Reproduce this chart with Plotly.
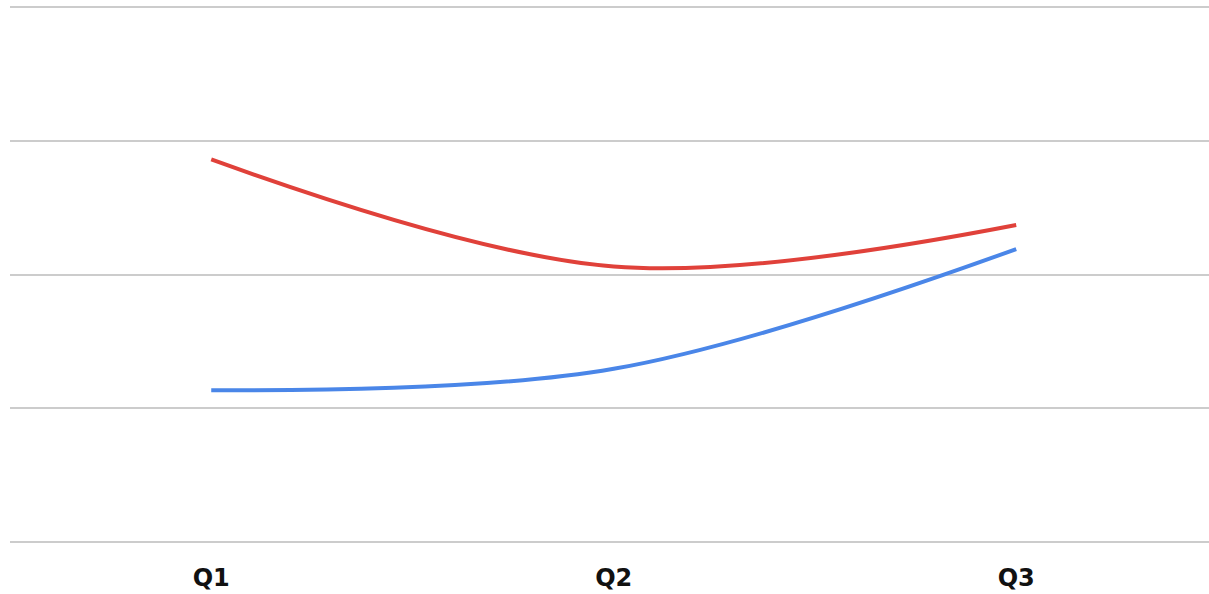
import plotly.graph_objects as go

quarters = ["Q1", "Q2", "Q3"]
series_red = [28.6, 20.6, 23.7]
series_blue = [11.35, 12.95, 21.9]

fig = go.Figure()
fig.add_trace(go.Scatter(
    x=quarters, y=series_red, mode="lines",
    line=dict(color="#e0413a", width=4, shape="spline", smoothing=1),
    hoverinfo="skip", showlegend=False,
))
fig.add_trace(go.Scatter(
    x=quarters, y=series_blue, mode="lines",
    line=dict(color="#4a86e8", width=4, shape="spline", smoothing=1),
    hoverinfo="skip", showlegend=False,
))

fig.update_layout(
    width=1209, height=594,
    margin=dict(l=10, r=0, t=5, b=50),
    paper_bgcolor="white", plot_bgcolor="white",
    font=dict(family="DejaVu Sans", color="#111111"),
)
fig.update_xaxes(
    type="category", range=[-0.5, 2.479],
    showgrid=False, zeroline=False, showline=False, ticks="",
    tickfont=dict(family="DejaVu Sans", size=24, color="#111111", weight="bold"),
    ticklabelstandoff=17,
)
# padded slightly so the 0 and 40 gridlines are drawn inside the plot area
fig.update_yaxes(
    range=[-0.15, 40.15], tickmode="array", tickvals=[0, 10, 20, 30, 40],
    showticklabels=False,
    showgrid=True, gridcolor="#cccccc", gridwidth=2,
    zeroline=False, showline=False, ticks="",
)

fig.write_html("out.html")
